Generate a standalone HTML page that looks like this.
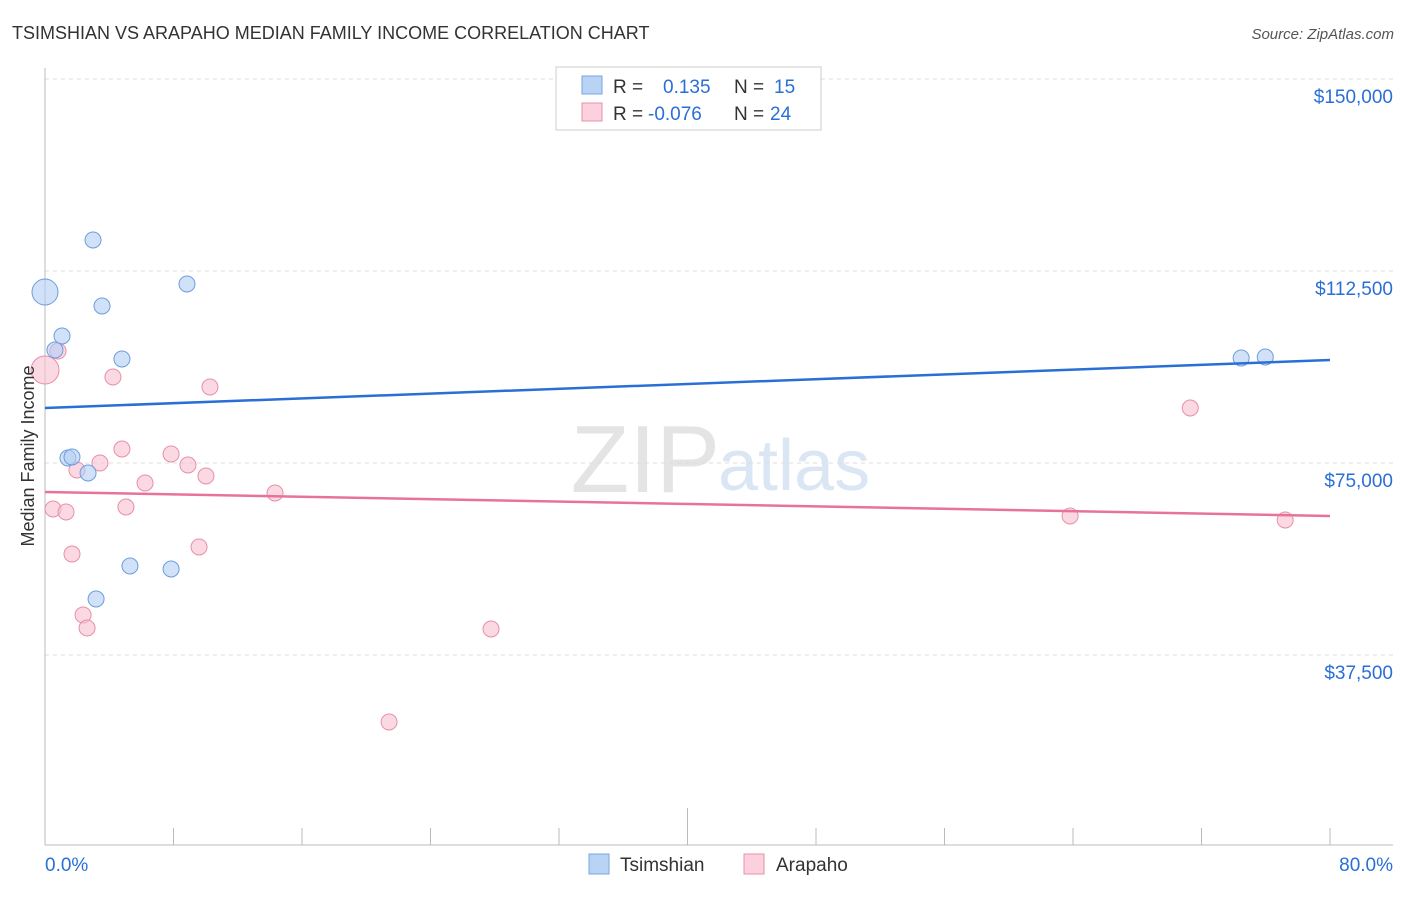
<!DOCTYPE html>
<html><head><meta charset="utf-8"><style>
body{margin:0;background:#fff;font-family:"Liberation Sans",sans-serif;}
svg text{font-family:"Liberation Sans",sans-serif;}
</style></head><body>
<svg id="chart" width="1406" height="892" xmlns="http://www.w3.org/2000/svg">
<text x="12" y="39" font-size="18" fill="#333">TSIMSHIAN VS ARAPAHO MEDIAN FAMILY INCOME CORRELATION CHART</text>
<text x="1394" y="39" font-size="15" fill="#555" font-style="italic" text-anchor="end">Source: ZipAtlas.com</text>
<text x="720" y="492" font-size="96" fill="#e4e4e4" text-anchor="end" font-family="Liberation Serif">ZIP</text>
<text x="718" y="490" font-size="72" fill="#dbe6f5">atlas</text>
<g id="grid"></g>
<g id="axes"></g>
<g id="marks"></g>
<text transform="translate(34,456) rotate(-90)" font-size="18" fill="#333" text-anchor="middle">Median Family Income</text>
<g>
<rect x="556" y="67" width="265" height="63" fill="#fff" stroke="#ccc"/>
<rect x="582" y="76" width="20" height="18" fill="#b9d3f5" stroke="#7aa6e0"/>
<rect x="582" y="103" width="20" height="18" fill="#fcd0dd" stroke="#e88fab"/>
<text x="613" y="93" font-size="19" fill="#333">R = </text><text x="663" y="93" font-size="19" fill="#2a6fd6">0.135</text>
<text x="734" y="93" font-size="19" fill="#333">N = </text><text x="774" y="93" font-size="19" fill="#2a6fd6">15</text>
<text x="613" y="120" font-size="19" fill="#333">R = </text><text x="648" y="120" font-size="19" fill="#2a6fd6">-0.076</text>
<text x="734" y="120" font-size="19" fill="#333">N = </text><text x="770" y="120" font-size="19" fill="#2a6fd6">24</text>
</g>
<g>
<rect x="589" y="854" width="20" height="20" fill="#b9d3f5" stroke="#7aa6e0"/>
<text x="620" y="871" font-size="19" fill="#333">Tsimshian</text>
<rect x="744" y="854" width="20" height="20" fill="#fcd0dd" stroke="#e88fab"/>
<text x="776" y="871" font-size="19" fill="#333">Arapaho</text>
</g>
</svg>
<script>
const yTicks=[37500,75000,112500,150000];
const yTickLabels=["$37,500","$75,000","$112,500","$150,000"];
const xTickLabels=["0.0%","80.0%"];
const blueX=[0,2.99,3.55,1.06,0.62,4.79,8.84,1.43,1.68,2.68,5.29,7.85,3.18,74.47,75.97];
const blueY=[108400,118555,105664,99805,97070,95313,109961,75977,76172,73047,54883,54297,48438,95508,95703];
const blueR=[13,8,8,8,8,8,8,8,8,8,8,8,8,8,8];
const pinkX=[0,0.81,4.23,10.27,71.3,4.79,7.85,3.42,8.9,1.99,10.02,6.23,14.32,0.5,1.31,5.04,63.82,77.21,9.59,1.68,2.37,2.62,27.77,21.42];
const pinkY=[93164,96875,91797,89844,85742,77734,76758,75000,74609,73633,72461,71094,69141,66016,65430,66406,64648,63867,58594,57227,45313,42773,42578,24414];
const pinkR=[14,8,8,8,8,8,8,8,8,8,8,8,8,8,8,8,8,8,8,8,8,8,8,8];
const blueTrend=[85742,95117];
const pinkTrend=[69336,64648];
const NS="http://www.w3.org/2000/svg";
const xs=v=>45+v*(1285/80);
const ys=v=>847-v*(192/37500);
function mk(t,a,p){const e=document.createElementNS(NS,t);for(const k in a)e.setAttribute(k,a[k]);p.appendChild(e);return e;}
const grid=document.getElementById('grid'),axes=document.getElementById('axes'),marks=document.getElementById('marks');
yTicks.forEach((v,i)=>{
const l=mk('line',{x1:45,x2:1393,y1:ys(v),y2:ys(v),stroke:'#ddd','stroke-dasharray':'4,4'},grid);


const t=mk('text',{x:1393,y:ys(v)+24,'font-size':19,fill:'#2a6fd6','text-anchor':'end'},axes);
t.textContent=yTickLabels[i];


});
const l0=mk('line',{x1:45,x2:45,y1:68,y2:845,stroke:'#bbb'},axes);


const l1=mk('line',{x1:45,x2:1393,y1:845,y2:845,stroke:'#bbb'},axes);


for(let i=1;i<=10;i++){
const tk=mk('line',{x1:xs(i*8),x2:xs(i*8),y1:i==5?808:828,y2:845,stroke:'#bbb'},axes);


}
[[0,'start',45],[80,'end',1393]].forEach((d,i)=>{
const t=mk('text',{x:d[2],y:871,'font-size':19,fill:'#2a6fd6','text-anchor':d[1]},axes);
t.textContent=xTickLabels[i];


});
function pts(X,Y,R,fill,stroke,name){X.forEach((x,i)=>{
const c=mk('circle',{cx:xs(x),cy:ys(Y[i]),r:R[i],fill:fill,'fill-opacity':0.6,stroke:stroke,'stroke-width':1},marks);


});}
pts(pinkX,pinkY,pinkR,'#f8bfd0','#e88fab','arapaho-point');
pts(blueX,blueY,blueR,'#b3cff3','#6d9ddc','tsimshian-point');
const bt=mk('line',{x1:xs(0),x2:xs(80),y1:ys(blueTrend[0]),y2:ys(blueTrend[1]),stroke:'#2a6fd6','stroke-width':2.5},marks);


const pt=mk('line',{x1:xs(0),x2:xs(80),y1:ys(pinkTrend[0]),y2:ys(pinkTrend[1]),stroke:'#e8739a','stroke-width':2.5},marks);


</script>
</body></html>
